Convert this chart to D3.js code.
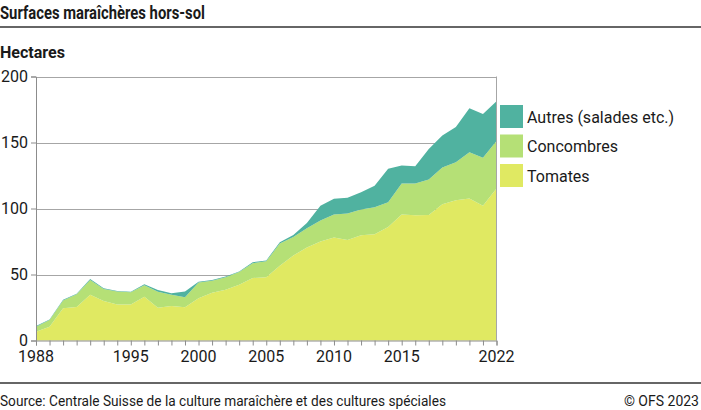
<!DOCTYPE html>
<html>
<head>
<meta charset="utf-8">
<script src="https://cdn.jsdelivr.net/npm/d3@7"></script>
<style>
  body { margin: 0; background: #fff; }
  text { font-family: Roboto, "Noto Sans", sans-serif; fill: #1a1a1a; }
</style>
</head>
<body>
<div id="chart"></div>
<script>
const years = d3.range(1988, 2023);
const tomates = [6.7, 10.5, 24.5, 25.3, 34.6, 30, 27.3, 27.3, 33.2, 24.8, 26.2, 25.2, 32, 36.2, 38.4, 42.2, 47.3, 48,
  56.7, 64.3, 70.5, 75, 78, 76.2, 79.7, 80.4, 86, 95.4, 94.8, 95, 103.2, 106.3, 107.6, 102, 115.2];
const concombres = [3.8, 5.1, 5.8, 9.7, 11.2, 9, 9.8, 9.3, 8.6, 12.2, 8.4, 7.6, 12, 9, 9.6, 9.6, 11.2, 12,
  16.7, 14.2, 14.5, 16, 17.4, 20, 19.5, 20.6, 18.8, 23.6, 24.2, 27, 27.8, 28.7, 35, 36.5, 36];
const autres = [0.5, 0.4, 0.5, 0.5, 0.7, 0.5, 0.4, 0.4, 0.8, 1.3, 1.2, 4.4, 0.6, 0.6, 0.5, 0.5, 0.8, 0.7,
  1, 1.5, 4, 11, 12, 11.9, 13.1, 16.3, 25.4, 13.5, 13, 23, 24.3, 26.7, 33.4, 33, 30.1];
const seriesNames = ['Tomates', 'Concombres', 'Autres (salades etc.)'];
const colors = ['#e0e962', '#b5e076', '#50b2a0'];
const xLabels = [1988, 1995, 2000, 2005, 2010, 2015, 2022];
const yTicks = [0, 50, 100, 150, 200];

const width = 701, height = 410;
const svg = d3.select('#chart').append('svg').attr('width', width).attr('height', height);

const table = years.map((y, i) => ({ year: y, Tomates: tomates[i], Concombres: concombres[i], 'Autres (salades etc.)': autres[i] }));
const stacked = d3.stack().keys(seriesNames)(table);

const x = d3.scaleLinear().domain([1988, 2022]).range([36, 496.5]);
const yScale = d3.scaleLinear().domain([0, 200]).range([340.5, 76.5]);

// title
svg.append('text').attr('x', 0).attr('y', 19).attr('font-size', 19).attr('font-weight', 700)
  .attr('textLength', 205).attr('lengthAdjust', 'spacingAndGlyphs').text('Surfaces maraîchères hors-sol');
svg.append('line').attr('x1', 0).attr('x2', width).attr('y1', 27).attr('y2', 27)
  .attr('stroke', '#333').attr('stroke-width', 1.5);
svg.append('text').attr('x', 0).attr('y', 58).attr('font-size', 16).attr('font-weight', 700)
  .attr('textLength', 65).attr('lengthAdjust', 'spacingAndGlyphs').text('Hectares');

// gridlines
svg.append('g').selectAll('line').data(yTicks.slice(1)).join('line')
  .attr('x1', x(1988)).attr('x2', x(2022))
  .attr('y1', (d) => Math.round(yScale(d)) + 0.5).attr('y2', (d) => Math.round(yScale(d)) + 0.5)
  .attr('stroke', '#a6a6a6').attr('stroke-width', 1);

// areas
const area = d3.area().x((d) => x(d.data.year)).y0((d) => yScale(d[0])).y1((d) => yScale(d[1]));
svg.append('g').selectAll('path').data(stacked).join('path')
  .attr('d', area).attr('fill', (d, i) => colors[i]);

// right border
svg.append('line').attr('x1', x(2022)).attr('x2', x(2022)).attr('y1', yScale(200)).attr('y2', yScale(0))
  .attr('stroke', '#a6a6a6');

// axes
const yAxis = svg.append('g').attr('transform', `translate(${x(1988)},0)`)
  .call(d3.axisLeft(yScale).tickValues(yTicks).tickSize(5).tickPadding(3));
yAxis.select('.domain').attr('stroke', '#8c8c8c');
yAxis.selectAll('.tick line').attr('stroke', '#8c8c8c');
yAxis.selectAll('text').attr('font-size', 16).attr('font-family', 'Roboto').attr('fill', '#1a1a1a');

const xAxis = svg.append('g').attr('transform', `translate(0,${yScale(0)})`)
  .call(d3.axisBottom(x).tickValues(years).tickSize(5).tickFormat(''));
xAxis.select('.domain').attr('stroke', '#8c8c8c');
xAxis.selectAll('.tick line').attr('stroke', '#8c8c8c');
svg.append('g').selectAll('text').data(xLabels).join('text')
  .attr('x', (d) => x(d)).attr('y', 362).attr('text-anchor', 'middle').attr('font-size', 16)
  .text((d) => d);

// legend
const legendOrder = [2, 1, 0];
const legend = svg.append('g').selectAll('g').data(legendOrder).join('g')
  .attr('transform', (d, i) => `translate(500,${105 + i * 29.5})`);
legend.append('rect').attr('width', 23).attr('height', 23).attr('fill', (d) => colors[d]);
legend.append('text').attr('x', 27).attr('y', 17.5).attr('font-size', 16).text((d) => seriesNames[d]);

// footer
svg.append('line').attr('x1', 0).attr('x2', width).attr('y1', 383).attr('y2', 383)
  .attr('stroke', '#333').attr('stroke-width', 1.5);
svg.append('text').attr('x', 0).attr('y', 405.5).attr('font-size', 14)
  .attr('textLength', 446).attr('lengthAdjust', 'spacingAndGlyphs')
  .text('Source: Centrale Suisse de la culture maraîchère et des cultures spéciales');
svg.append('text').attr('x', 699).attr('y', 405.5).attr('font-size', 14).attr('text-anchor', 'end')
  .text('© OFS 2023');
</script>
</body>
</html>
